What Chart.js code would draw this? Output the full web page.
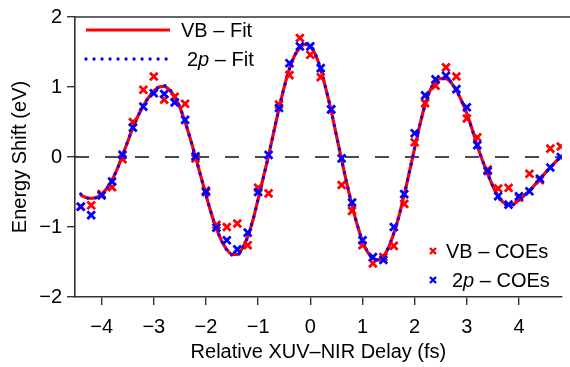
<!DOCTYPE html>
<html>
<head>
<meta charset="utf-8">
<script src="https://cdn.jsdelivr.net/npm/chart.js@4/dist/chart.umd.min.js"></script>
<style>
  html, body { margin: 0; padding: 0; background: #fff; }
  #wrap { width: 570px; height: 367px; }
</style>
</head>
<body>
<div id="wrap"><canvas id="chart" width="570" height="367"></canvas></div>
<script>
// === DATA ===
const xTicks = [-4, -3, -2, -1, 0, 1, 2, 3, 4];
const yTicks = [-2, -1, 0, 1, 2];

// fitted curves
const fitX = [-4.4, -4.3, -4.2, -4.1, -4.0, -3.9, -3.8, -3.7, -3.6, -3.5, -3.4, -3.3, -3.2, -3.1, -3.0,
  -2.9, -2.8, -2.7, -2.6, -2.5, -2.4, -2.3, -2.2, -2.1, -2.0, -1.9, -1.8, -1.7, -1.6, -1.5, -1.4, -1.3,
  -1.2, -1.1, -1.0, -0.9, -0.8, -0.7, -0.6, -0.5, -0.4, -0.3, -0.2, -0.1, 0.0, 0.1, 0.2, 0.3, 0.4, 0.5,
  0.6, 0.7, 0.8, 0.9, 1.0, 1.1, 1.2, 1.3, 1.4, 1.5, 1.6, 1.7, 1.8, 1.9, 2.0, 2.1, 2.2, 2.3, 2.4, 2.5,
  2.6, 2.7, 2.8, 2.9, 3.0, 3.1, 3.2, 3.3, 3.4, 3.5, 3.6, 3.7, 3.8, 3.9, 4.0, 4.1, 4.2, 4.3, 4.4, 4.5,
  4.6, 4.7, 4.8];
const vbFit = [-0.54, -0.58, -0.59, -0.58, -0.53, -0.45, -0.33, -0.17, 0.02, 0.22, 0.42, 0.59, 0.73, 0.85, 0.94,
  1.00, 1.01, 0.96, 0.86, 0.71, 0.50, 0.26, 0.00, -0.27, -0.54, -0.80, -1.02, -1.20, -1.32, -1.39, -1.39, -1.30,
  -1.14, -0.90, -0.60, -0.29, 0.02, 0.36, 0.69, 1.00, 1.26, 1.45, 1.56, 1.61, 1.58, 1.46, 1.25, 0.97, 0.66, 0.31,
  -0.04, -0.38, -0.69, -0.97, -1.20, -1.36, -1.45, -1.47, -1.42, -1.29, -1.09, -0.84, -0.54, -0.21, 0.13, 0.46,
  0.75, 0.96, 1.08, 1.12, 1.12, 1.06, 0.95, 0.80, 0.62, 0.40, 0.16, -0.05, -0.24, -0.42, -0.56, -0.65, -0.68,
  -0.67, -0.61, -0.55, -0.48, -0.40, -0.31, -0.23, -0.15, -0.07, 0.01];
const pFit = [-0.53, -0.58, -0.59, -0.58, -0.53, -0.45, -0.33, -0.17, 0.02, 0.22, 0.42, 0.59, 0.73, 0.85, 0.94,
  1.00, 1.02, 0.97, 0.86, 0.71, 0.50, 0.26, 0.00, -0.27, -0.54, -0.80, -1.02, -1.20, -1.33, -1.40, -1.40, -1.31,
  -1.14, -0.90, -0.60, -0.29, 0.02, 0.36, 0.69, 1.00, 1.26, 1.45, 1.57, 1.62, 1.59, 1.46, 1.25, 0.97, 0.66, 0.31,
  -0.04, -0.38, -0.69, -0.97, -1.20, -1.36, -1.45, -1.47, -1.42, -1.29, -1.09, -0.84, -0.54, -0.21, 0.13, 0.46,
  0.75, 0.96, 1.08, 1.13, 1.13, 1.07, 0.95, 0.80, 0.62, 0.40, 0.16, -0.05, -0.24, -0.42, -0.57, -0.66, -0.69,
  -0.68, -0.62, -0.55, -0.48, -0.40, -0.31, -0.23, -0.15, -0.07, 0.01];

// measured points
const coeX = [-4.4, -4.2, -4.0, -3.8, -3.6, -3.4, -3.2, -3.0, -2.8, -2.6, -2.4, -2.2, -2.0, -1.8, -1.6, -1.4,
  -1.2, -1.0, -0.8, -0.6, -0.4, -0.2, 0.0, 0.2, 0.4, 0.6, 0.8, 1.0, 1.2, 1.4, 1.6, 1.8, 2.0, 2.2, 2.4, 2.6,
  2.8, 3.0, 3.2, 3.4, 3.6, 3.8, 4.0, 4.2, 4.4, 4.6, 4.8];
const vbCoe = [-0.71, -0.69, -0.53, -0.43, -0.03, 0.50, 0.96, 1.15, 0.82, 0.86, 0.76, -0.02, -0.48, -0.97, -1.00, -0.95,
  -1.26, -0.44, -0.52, 0.75, 1.17, 1.70, 1.46, 1.14, 0.68, -0.40, -0.77, -1.26, -1.52, -1.43, -1.27, -0.67, 0.21, 0.77,
  1.02, 1.28, 1.15, 0.55, 0.28, -0.18, -0.45, -0.44, -0.58, -0.24, -0.33, 0.12, 0.15];
const pCoe = [-0.71, -0.83, -0.55, -0.35, 0.03, 0.42, 0.72, 0.91, 0.90, 0.78, 0.53, 0.01, -0.50, -1.01, -1.19, -1.32,
  -1.08, -0.50, 0.03, 0.70, 1.34, 1.58, 1.58, 1.27, 0.68, -0.02, -0.65, -1.19, -1.43, -1.47, -1.00, -0.53, 0.34, 0.88,
  1.11, 1.16, 0.97, 0.71, 0.17, -0.20, -0.56, -0.68, -0.56, -0.49, -0.31, -0.15, 0.00];

const zeroLevel = 0;

// === STYLE ===
const FONT = "'Liberation Sans', Arial, Helvetica, sans-serif";
const AXIS = '#333333';
const RED = '#ff0000';
const BLUE = '#0000ff';
Chart.defaults.font.family = FONT;
Chart.defaults.color = '#000';

function pts(xs, ys) { return xs.map((x, i) => ({ x: x, y: ys[i] })); }
function minus(v) { return String(v).replace('-', '\u2212'); }

function drawCross(ctx, x, y, r, color, w) {
    ctx.save();
    ctx.strokeStyle = color;
    ctx.lineWidth = w;
    ctx.beginPath();
    ctx.moveTo(x - r, y - r); ctx.lineTo(x + r, y + r);
    ctx.moveTo(x - r, y + r); ctx.lineTo(x + r, y - r);
    ctx.stroke();
    ctx.restore();
}

function drawLabel(ctx, parts, x, y) {
    ctx.textBaseline = 'alphabetic';
    ctx.textAlign = 'left';
    ctx.fillStyle = '#000';
    parts.forEach(([t, italic]) => {
        ctx.font = (italic ? 'italic ' : '') + '20px ' + FONT;
        ctx.fillText(t, x, y);
        x += ctx.measureText(t).width;
    });
}

// zero line + top border + legends
const extras = {
    id: 'extras',
    beforeDatasetsDraw(chart) {
        const { ctx, chartArea } = chart;
        const y0 = chart.scales.y.getPixelForValue(zeroLevel);
        ctx.save();
        ctx.strokeStyle = '#111';
        ctx.lineWidth = 1.5;
        ctx.setLineDash([14, 16]);
        ctx.beginPath();
        ctx.moveTo(chartArea.left, y0);
        ctx.lineTo(chartArea.right, y0);
        ctx.stroke();
        ctx.restore();
    },
    afterDraw(chart) {
        const { ctx, chartArea } = chart;
        ctx.save();
        ctx.strokeStyle = AXIS;
        ctx.lineWidth = 1.5;
        ctx.beginPath();
        ctx.moveTo(chartArea.left, chartArea.top);
        ctx.lineTo(chart.width, chartArea.top);
        ctx.stroke();

        // top-left legend (fits)
        ctx.lineWidth = 3;
        ctx.strokeStyle = RED;
        ctx.beginPath();
        ctx.moveTo(86, 30); ctx.lineTo(170, 30);
        ctx.stroke();
        ctx.strokeStyle = BLUE;
        ctx.lineWidth = 3.3;
        ctx.lineCap = 'round';
        ctx.setLineDash([0.01, 8]);
        ctx.beginPath();
        ctx.moveTo(86, 59); ctx.lineTo(172, 59);
        ctx.stroke();
        ctx.setLineDash([]);
        ctx.lineCap = 'butt';
        drawLabel(ctx, [['VB \u2013 Fit', false]], 181, 37);
        drawLabel(ctx, [['2', false], ['p', true], [' \u2013 Fit', false]], 187, 66);

        // bottom-right legend (points)
        drawCross(ctx, 433, 251, 3, RED, 2.4);
        drawCross(ctx, 433, 280, 3, BLUE, 2.4);
        drawLabel(ctx, [['VB \u2013 COEs', false]], 446, 258);
        drawLabel(ctx, [['2', false], ['p', true], [' \u2013 COEs', false]], 452, 287);
        ctx.restore();
    }
};

let ctx = document.getElementById('chart').getContext('2d');
let chart = new Chart(ctx, {
    type: 'scatter',
    data: {
        datasets: [
            {
                label: '2p - COEs', data: pts(coeX, pCoe), order: 0,
                pointStyle: 'crossRot', pointRadius: 5.4, borderColor: BLUE, borderWidth: 2.8, showLine: false
            },
            {
                label: 'VB - COEs', data: pts(coeX, vbCoe), order: 1,
                pointStyle: 'crossRot', pointRadius: 5.4, borderColor: RED, borderWidth: 2.8, showLine: false
            },
            {
                label: '2p - Fit', data: pts(fitX, pFit), order: 2, showLine: true, pointRadius: 0,
                borderColor: BLUE, borderWidth: 3.3, borderDash: [0.01, 8], borderCapStyle: 'round',
                cubicInterpolationMode: 'monotone'
            },
            {
                label: 'VB - Fit', data: pts(fitX, vbFit), order: 3, showLine: true, pointRadius: 0,
                borderColor: RED, borderWidth: 3.2, cubicInterpolationMode: 'monotone'
            }
        ]
    },
    options: {
        responsive: false,
        animation: false,
        devicePixelRatio: 1,
        layout: { padding: { top: 13, right: 0, left: 0, bottom: 0 } },
        plugins: { legend: { display: false }, tooltip: { enabled: false } },
        scales: {
            x: {
                type: 'linear', min: -4.51, max: 4.82,
                afterBuildTicks: s => { s.ticks = xTicks.map(v => ({ value: v })); },
                afterFit: s => { s.height = 70; },
                ticks: { font: { size: 20 }, color: '#000', padding: 10, maxRotation: 0, callback: v => minus(v) },
                grid: { drawOnChartArea: false, drawTicks: true, tickLength: 8, color: AXIS, lineWidth: 1.4 },
                border: { display: true, color: AXIS, width: 1.6 },
                title: { display: true, text: 'Relative XUV\u2013NIR Delay (fs)', font: { size: 20, lineHeight: 1.5 }, color: '#000', padding: 0 }
            },
            y: {
                type: 'linear', min: -2, max: 2,
                afterBuildTicks: s => { s.ticks = yTicks.map(v => ({ value: v })); },
                afterFit: s => { s.width = 75; },
                ticks: { font: { size: 20 }, color: '#000', padding: 5, callback: v => minus(v) },
                grid: { drawOnChartArea: false, drawTicks: true, tickLength: 8, color: AXIS, lineWidth: 1.4 },
                border: { display: true, color: AXIS, width: 1.6 },
                title: { display: true, text: 'Energy Shift (eV)', font: { size: 20, lineHeight: 2 }, color: '#000', padding: 0 }
            }
        }
    },
    plugins: [extras]
});
</script>
</body>
</html>
